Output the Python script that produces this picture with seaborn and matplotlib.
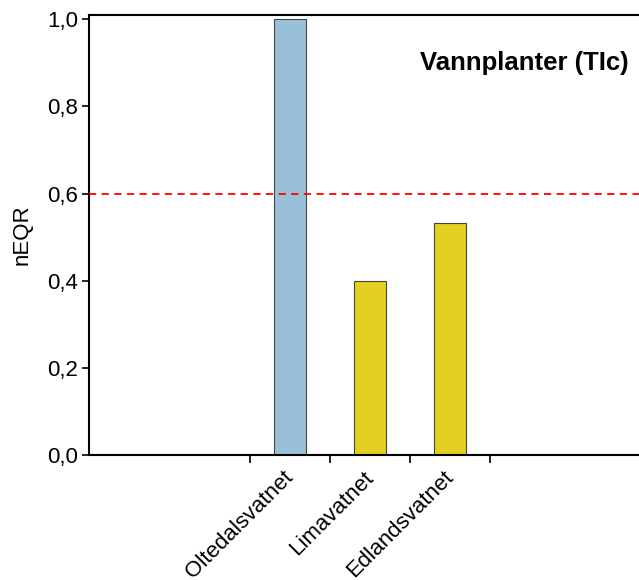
import matplotlib.pyplot as plt
import matplotlib.ticker as mticker
from matplotlib.transforms import ScaledTranslation
import numpy as np
import pandas as pd
import seaborn as sns

sns.set_theme(style="white")
plt.rcParams['font.family'] = ['Liberation Sans', 'DejaVu Sans']
plt.rcParams['text.color'] = 'black'
plt.rcParams['axes.labelcolor'] = 'black'
plt.rcParams['xtick.color'] = 'black'
plt.rcParams['ytick.color'] = 'black'

lakes = ['Oltedalsvatnet', 'Limavatnet', 'Edlandsvatnet']
neqr = [1.0, 0.40, 0.533]
colors = ['#99C0D9', '#E3D021']
status = ['good', 'bad', 'bad']
threshold = 0.6
title = 'Vannplanter (TIc)'

df = pd.DataFrame({'lake': lakes, 'neqr': neqr, 'status': status})

fig = plt.figure(figsize=(6.39, 5.80), dpi=100)
ax = fig.add_axes([89 / 639, 1 - 455 / 580, 1 - 89 / 639, 440 / 580])

sns.barplot(data=df, x='lake', y='neqr', hue='status', palette=colors,
            saturation=1, width=0.4, dodge=False, edgecolor='#444444',
            linewidth=0.8, legend=False, ax=ax)

ax.axhline(threshold, color='#FF0000', linestyle=(0, (4, 3)), linewidth=1.3, zorder=5)

ax.set_xlim(-2.51, 4.36)
ax.set_ylim(0, 1.01)

ax.set_yticks(np.arange(0, 1.01, 0.2))
ax.yaxis.set_major_formatter(mticker.FuncFormatter(lambda v, p: f'{v:.1f}'.replace('.', ',')))
ax.set_xticks([-0.5, 0.5, 1.5, 2.5])
ax.set_xticklabels([])
ax.set_xticks(range(len(lakes)), minor=True)
ax.set_xticklabels(lakes, minor=True, rotation=45, ha='right', va='center',
                   rotation_mode='anchor', fontsize=16)
for lab in ax.get_xticklabels(minor=True):
    lab.set_transform(lab.get_transform() + ScaledTranslation(-8 / 100, 0, fig.dpi_scale_trans))
ax.tick_params(axis='x', which='major', direction='out', length=6, width=1.2,
               bottom=True)
ax.tick_params(axis='x', which='minor', length=0, pad=14)
ax.tick_params(axis='y', direction='out', length=5, width=1.2, left=True,
               labelsize=16, pad=3)

for side in ['left', 'bottom', 'top']:
    ax.spines[side].set_color('black')
    ax.spines[side].set_linewidth(1.5)
ax.spines['right'].set_visible(False)

ax.set_xlabel('')
ax.set_ylabel('nEQR', fontsize=16, labelpad=10)
ax.text(0.982, 0.892, title, transform=ax.transAxes, ha='right', va='center',
        fontsize=18.5, fontweight='bold')

fig.savefig('out.png', dpi=100)
